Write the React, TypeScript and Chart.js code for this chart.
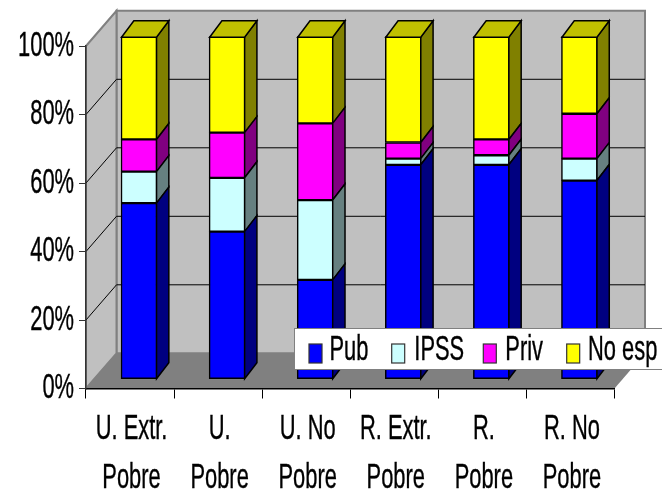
import React, { useEffect, useRef } from "react";
import { Chart, registerables } from "chart.js";

Chart.register(...registerables);

const categories = [
  ["U. Extr.", "Pobre"],
  ["U.", "Pobre"],
  ["U. No", "Pobre"],
  ["R. Extr.", "Pobre"],
  ["R.", "Pobre"],
  ["R. No", "Pobre"],
];
const pub = [51.4, 43.1, 29.0, 62.6, 62.6, 58.0];
const ipss = [9.2, 15.7, 23.3, 1.8, 2.8, 6.4];
const priv = [9.4, 13.2, 22.4, 4.7, 4.6, 13.1];
const noEsp = [30.0, 28.0, 25.3, 30.9, 30.0, 22.5];

const seriesNames = ["Pub", "IPSS", "Priv", "No esp"];
const fronts = ["#0000ff", "#ccffff", "#ff00ff", "#ffff00"];
const sides = ["#000080", "#668080", "#800080", "#808000"];
const TOP_FACE = "#c0c000";

const FONT = "Liberation Sans";
const FONT_SIZE = 35;
const SQUEEZE = 0.625;

// 3D projection constants
const WALL_DX = 30.5;
const WALL_DY = -35.2;
const BAR_DX = 9;
const BAR_DY = -9.3;
const SIDE_DX = 12.3;
const SIDE_DY = -16;

function poly(ctx: CanvasRenderingContext2D, pts: number[][], fill?: string, stroke?: string, lw = 1) {
  ctx.beginPath();
  pts.forEach((p, i) => (i ? ctx.lineTo(p[0], p[1]) : ctx.moveTo(p[0], p[1])));
  ctx.closePath();
  if (fill) {
    ctx.fillStyle = fill;
    ctx.fill();
  }
  if (stroke) {
    ctx.strokeStyle = stroke;
    ctx.lineWidth = lw;
    ctx.stroke();
  }
}

const wallsPlugin = {
  id: "walls",
  beforeDraw(chart: any) {
    const { ctx, chartArea: a, scales } = chart;
    const l = a.left, r = a.right, t = a.top, b = a.bottom;
    const dx = WALL_DX, dy = WALL_DY;
    ctx.save();
    poly(ctx, [[l + dx, t + dy], [r + dx, t + dy], [r + dx, b + dy], [l + dx, b + dy]], "#c0c0c0", "#808080", 2);
    poly(ctx, [[l, t], [l + dx, t + dy], [l + dx, b + dy], [l, b]], "#c0c0c0", "#808080", 2);
    poly(ctx, [[l, b], [l + dx, b + dy], [r + dx, b + dy], [r, b]], "#808080");
    ctx.strokeStyle = "#000";
    ctx.lineWidth = 1;
    (scales.y.ticks as any[]).forEach((tk) => {
      if (tk.value <= 0 || tk.value >= 100) return;
      const y = scales.y.getPixelForValue(tk.value);
      ctx.beginPath();
      ctx.moveTo(l, y);
      ctx.lineTo(l + dx, y + dy);
      ctx.lineTo(r + dx, y + dy);
      ctx.stroke();
    });
    ctx.restore();
  },
};

const barsPlugin = {
  id: "bars3d",
  beforeDatasetDraw(chart: any) {
    chart.ctx.save();
    chart.ctx.translate(BAR_DX, BAR_DY);
  },
  afterDatasetDraw(chart: any, args: any) {
    const { ctx } = chart;
    const idx = args.index;
    const last = chart.data.datasets.length - 1;
    args.meta.data.forEach((el: any) => {
      const p = el.getProps(["x", "y", "base", "width"], true);
      const left = p.x - p.width / 2 + 0.5;
      const right = p.x + p.width / 2 - 0.5;
      poly(ctx, [[right, p.y], [right + SIDE_DX, p.y + SIDE_DY], [right + SIDE_DX, p.base + SIDE_DY], [right, p.base]], sides[idx], "#000", 1.5);
      if (idx === last) {
        poly(ctx, [[left, p.y + 0.5], [left + SIDE_DX, p.y + SIDE_DY], [right + SIDE_DX, p.y + SIDE_DY], [right, p.y + 0.5]], TOP_FACE, "#000", 1.5);
      }
    });
    ctx.restore();
  },
};

const legendPlugin = {
  id: "boxLegend",
  afterDraw(chart: any) {
    const { ctx } = chart;
    const swatchX = [309, 391.7, 483.3, 566.7];
    const textX = [329.5, 414.3, 505.3, 588];
    ctx.save();
    ctx.fillStyle = "#fff";
    ctx.fillRect(294.5, 328.5, 372, 41);
    ctx.strokeStyle = "#808080";
    ctx.lineWidth = 1;
    ctx.strokeRect(294.5, 328.5, 372, 41);
    chart.data.datasets.forEach((ds: any, i: number) => {
      ctx.fillStyle = ds.backgroundColor;
      ctx.fillRect(swatchX[i], 344, 13, 19);
      ctx.strokeStyle = "#333";
      ctx.lineWidth = 1.2;
      ctx.strokeRect(swatchX[i], 344, 13, 19);
      ctx.fillStyle = "#000";
      ctx.font = `${FONT_SIZE}px "${FONT}"`;
      ctx.textAlign = "left";
      ctx.textBaseline = "middle";
      ctx.fillText(ds.label, textX[i], 350.5);
    });
    ctx.restore();
  },
};

export default function App() {
  const ref = useRef<HTMLCanvasElement>(null);
  useEffect(() => {
    const canvas = ref.current!;
    const ctx = canvas.getContext("2d")!;
    const origFill = ctx.fillText.bind(ctx);
    ctx.fillText = (t: string, x: number, y: number) => {
      ctx.save();
      ctx.translate(x, y);
      ctx.scale(SQUEEZE, 1);
      origFill(t, 0, 0);
      ctx.strokeStyle = "#000";
      ctx.lineWidth = 0.4;
      ctx.strokeText(t, 0, 0);
      ctx.restore();
    };
    const values = [pub, ipss, priv, noEsp];
    const chart = new Chart(canvas, {
      type: "bar",
      data: {
        labels: categories,
        datasets: seriesNames.map((label, i) => ({
          label,
          data: values[i],
          backgroundColor: fronts[i],
          borderColor: "#000",
          borderWidth: 1.5,
          borderSkipped: false,
          barThickness: 36,
          clip: false as any,
        })),
      },
      plugins: [wallsPlugin, barsPlugin, legendPlugin],
      options: {
        responsive: false,
        animation: false,
        devicePixelRatio: 1,
        layout: { padding: { top: 46, right: 47.5, left: 0, bottom: 0 } },
        plugins: { legend: { display: false }, title: { display: false }, tooltip: { enabled: false } },
        scales: {
          x: {
            stacked: true,
            afterFit: (s: any) => {
              s.height = 491 - 388.5;
            },
            grid: { drawOnChartArea: false, drawTicks: true, tickLength: 10, color: "#000", offset: true },
            border: { display: true, color: "#000", width: 1.5 },
            ticks: {
              color: "#000",
              maxRotation: 0,
              minRotation: 0,
              autoSkip: false,
              padding: 7,
              labelOffset: 1.5,
              font: { family: FONT, size: FONT_SIZE, lineHeight: 1.39 },
            },
          },
          y: {
            stacked: true,
            min: 0,
            max: 100,
            afterFit: (s: any) => {
              s.width = 86;
            },
            grid: { drawOnChartArea: false, drawTicks: true, tickLength: 7, color: "#333" },
            border: { display: true, color: "#333", width: 1.5 },
            ticks: {
              stepSize: 20,
              color: "#000",
              padding: 5,
              callback: (v: any) => `${v}%`,
              font: { family: FONT, size: FONT_SIZE },
            },
          },
        },
      },
    });
    return () => chart.destroy();
  }, []);
  return (
    <div style={{ position: "absolute", left: 0, top: 0, width: 662, height: 491, background: "#fff" }}>
      <canvas ref={ref} width={662} height={491} style={{ display: "block" }} />
    </div>
  );
}
